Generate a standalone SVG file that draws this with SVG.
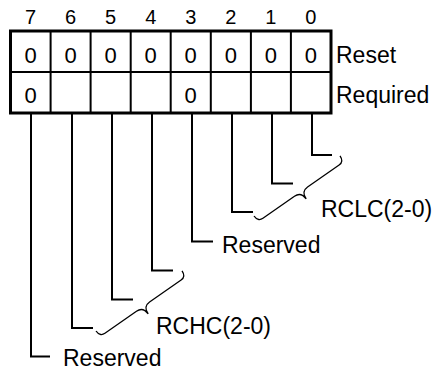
<svg xmlns="http://www.w3.org/2000/svg" width="437" height="370" viewBox="0 0 437 370">
<style>
text{font-family:"Liberation Sans",Arial,sans-serif;fill:#000}
.bit{font-size:20px;text-anchor:middle}
.cell{font-size:22px;text-anchor:middle}
.lbl{font-size:23px}
.outer{fill:#fff;stroke:#000;stroke-width:3}
.div{stroke:#000;stroke-width:2;fill:none}
.conn{stroke:#000;stroke-width:2;fill:none}
.brace{stroke:#000;stroke-width:1.3;fill:none}
</style>
<defs>
<path id="brace" d="M0,0 Q0,7 6,7 L44.5,7 Q52.5,7 52.5,16 Q52.5,7 60.5,7 L99,7 Q105,7 105,0"/>
</defs>
<rect width="437" height="370" fill="#fff"/>
<g id="bitnumbers">
<text class="bit" x="30.5" y="24">7</text>
<text class="bit" x="70.6" y="24">6</text>
<text class="bit" x="110.6" y="24">5</text>
<text class="bit" x="150.7" y="24">4</text>
<text class="bit" x="190.7" y="24">3</text>
<text class="bit" x="230.8" y="24">2</text>
<text class="bit" x="270.9" y="24">1</text>
<text class="bit" x="310.9" y="24">0</text>
</g>
<g id="register">
<rect class="outer" x="10.5" y="31" width="320.5" height="82"/>
<path class="div" d="M10.5,72H331 M50.6,31V113 M90.6,31V113 M130.7,31V113 M170.7,31V113 M210.8,31V113 M250.9,31V113 M290.9,31V113"/>
<text class="cell" x="30.5" y="63">0</text>
<text class="cell" x="70.6" y="63">0</text>
<text class="cell" x="110.6" y="63">0</text>
<text class="cell" x="150.7" y="63">0</text>
<text class="cell" x="190.7" y="63">0</text>
<text class="cell" x="230.8" y="63">0</text>
<text class="cell" x="270.9" y="63">0</text>
<text class="cell" x="310.9" y="63">0</text>
<text class="cell" x="30.5" y="103">0</text>
<text class="cell" x="190.7" y="103">0</text>
</g>
<g id="row-labels">
<text class="lbl" x="336" y="63">Reset</text>
<text class="lbl" x="336" y="103">Required</text>
</g>
<g id="connectors">
<path class="conn" d="M312,114V155H332"/>
<path class="conn" d="M272,114V183.5H293"/>
<path class="conn" d="M232,114V212H253"/>
<path class="conn" d="M192,114V241.5H213"/>
<path class="conn" d="M152,114V270.5H173"/>
<path class="conn" d="M112,114V299.5H133"/>
<path class="conn" d="M72,114V328H93"/>
<path class="conn" d="M31,114V356.5H50"/>
</g>
<g id="rclc">
<use href="#brace" class="brace" transform="translate(254,216) rotate(-35)"/>
<text class="lbl" x="321" y="217">RCLC(2-0)</text>
</g>
<g id="reserved3">
<text class="lbl" x="222" y="253">Reserved</text>
</g>
<g id="rchc">
<use href="#brace" class="brace" transform="translate(96,331) rotate(-35)"/>
<text class="lbl" x="156" y="334">RCHC(2-0)</text>
</g>
<g id="reserved7">
<text class="lbl" x="63" y="366">Reserved</text>
</g>
</svg>
